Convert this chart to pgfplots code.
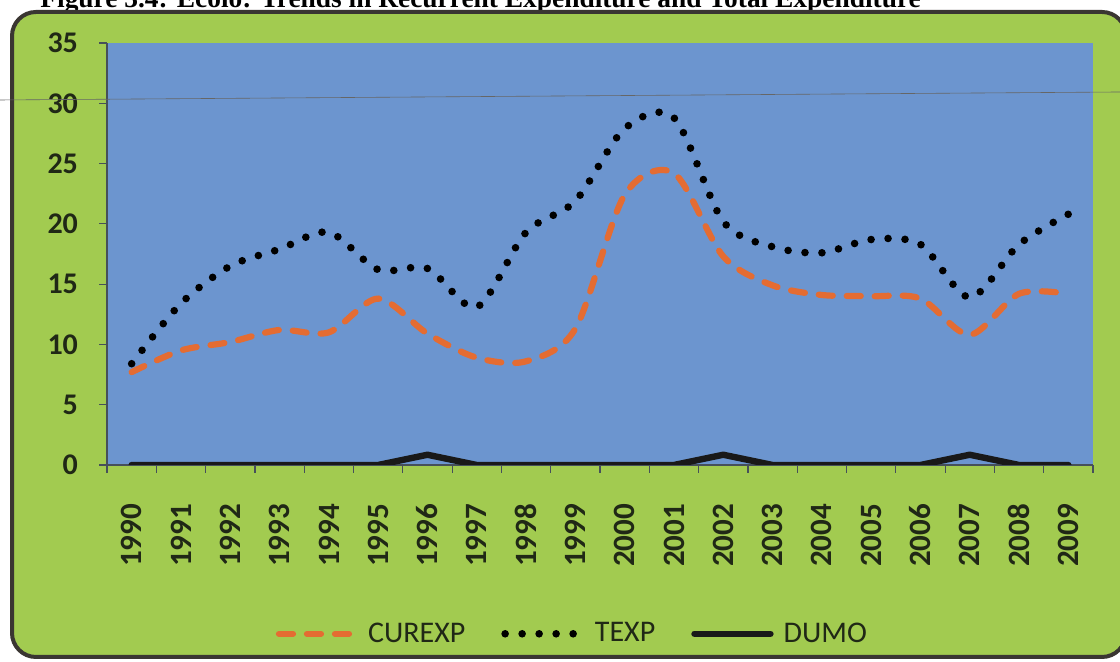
\documentclass[border=0pt]{standalone}
\usepackage{pgfplots}
\pgfplotsset{compat=1.18}
\usepackage{fontspec}
\setmainfont{Carlito}
\newfontfamily\titlefont{Liberation Serif}

\definecolor{bggreen}{RGB}{162,203,80}
\definecolor{plotblue}{RGB}{108,149,207}
\definecolor{curorange}{RGB}{228,108,50}
\definecolor{framecol}{RGB}{58,54,50}
\definecolor{txtdark}{RGB}{32,40,22}
\definecolor{axiscol}{RGB}{70,80,90}

% year index 0 = 1990
\pgfplotstableread{
x curexp texp dumo
0  7.7  8.4  0
1  9.5  13.4 0
2  10.2 16.5 0
3  11.2 17.9 0
4  11.0 19.3 0
5  13.8 16.2 0
6  10.9 16.3 0.85
7  8.9  13.1 0
8  8.6  19.3 0
9  11.3 21.9 0
10 22.4 27.9 0
11 24.2 28.8 0
12 17.3 20.2 0.85
13 14.9 18.1 0
14 14.1 17.6 0
15 14.0 18.7 0
16 13.8 18.3 0
17 10.8 13.9 0.85
18 14.2 18.3 0
19 14.2 20.8 0
}\mydata

\begin{document}
\begin{tikzpicture}
\useasboundingbox (0pt,0pt) rectangle (560pt,331pt);
\fill[white] (0pt,0pt) rectangle (560pt,331pt);
\node[anchor=base west, inner sep=0pt, text=black,
      font=\titlefont\bfseries\fontsize{13.7}{16}\selectfont] at (20pt,327pt)
  {Figure 3.4: Ecolo: Trends in Recurrent Expenditure and Total Expenditure};
\draw[framecol, line width=2pt, fill=bggreen, rounded corners=12pt] (6pt,2.5pt) rectangle (563pt,325pt);

\begin{axis}[
  at={(53.5pt,98.5pt)}, anchor=south west,
  scale only axis, width=493pt, height=211pt,
  xmin=-0.5, xmax=19.5, ymin=0, ymax=35,
  axis x line*=bottom, axis y line*=left,
  axis line style={draw=axiscol, line width=0.6pt, -},
  axis background/.style={fill=plotblue},
  tick align=outside,
  ytick={0,5,...,35},
  major tick length=4pt, minor tick length=4pt,
  xtick={0,...,19},
  xticklabels={1990,1991,1992,1993,1994,1995,1996,1997,1998,1999,2000,2001,2002,2003,2004,2005,2006,2007,2008,2009},
  major x tick style={draw=none},
  minor xtick={-0.5,0.5,...,19.5},
  every tick/.style={draw=axiscol, line width=0.6pt},
  xticklabel shift=12pt, yticklabel shift=7pt,
  x tick label style={rotate=90, anchor=east, text=txtdark,
      font=\bfseries\fontsize{15.5}{15.5}\selectfont},
  y tick label style={text=txtdark, font=\bfseries\fontsize{15}{15}\selectfont},
  /pgf/number format/assume math mode=true,
  legend columns=3,
  legend style={at={(0.473,-0.40)}, anchor=center, draw=none, fill=none,
      font=\fontsize{15}{15}\selectfont, text=txtdark,
      /tikz/every odd column/.append style={column sep=3pt},
      /tikz/every even column/.append style={column sep=16pt}},
  legend image code/.code={\draw[#1] (0pt,0pt) -- (38pt,0pt);},
]
\addplot[curorange, line width=3.1pt, smooth, tension=0.5, line cap=round,
   dash pattern=on 7pt off 7pt] table[x=x, y=curexp] {\mydata};
\addlegendentry{CUREXP}
\addplot[black, line width=3.8pt, smooth, tension=0.5, line cap=round,
   dash pattern=on 0pt off 8.5pt] table[x=x, y=texp] {\mydata};
\addlegendentry{TEXP}
\addplot[black!90, line width=3.2pt, line cap=round, line join=round]
   table[x=x, y=dumo] {\mydata};
\addlegendentry{DUMO}
\end{axis}
% scanning streak across the page
\draw[black!60, line width=0.3pt] (0pt,281pt) -- (560pt,285pt);
\end{tikzpicture}
\end{document}
